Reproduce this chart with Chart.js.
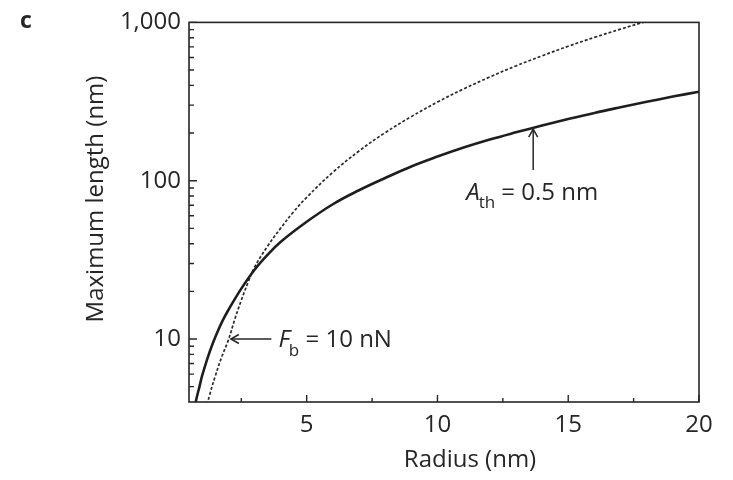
<!DOCTYPE html>
<html>
<head>
<meta charset="utf-8">
<script src="https://cdn.jsdelivr.net/npm/chart.js@4.4.1/dist/chart.umd.min.js"></script>
<style>
  html, body { margin: 0; padding: 0; background: #ffffff; }
  #wrap { width: 733px; height: 480px; }
</style>
</head>
<body>
<div id="wrap"><canvas id="c" width="733" height="480"></canvas></div>
<script>
// ---- Data ----
const radiusSolid  = [0.7, 0.8, 0.9, 1.0, 1.2, 1.4, 1.6, 1.8, 2.0, 2.5, 3, 3.5, 4, 5, 6, 7, 8, 9, 10, 11, 12, 13, 14, 15, 16, 17, 18, 19, 20];
const lengthSolid  = [3.6, 4.3, 5.0, 5.85, 7.5, 9.3, 11.2, 13.2, 15.2, 20.8, 27.3, 34, 41, 55, 71, 87, 104, 123, 142, 162, 182, 202, 223, 245, 268, 291, 315, 340, 365];
const radiusDashed = [1.15, 1.3, 1.5, 1.75, 2.0, 2.25, 2.5, 2.75, 3, 3.5, 4, 4.5, 5, 6, 7, 8, 9, 10, 11, 12, 13, 14, 15, 16, 17, 18];
const lengthDashed = [3.6, 4.5, 5.8, 7.7, 9.8, 13.3, 17.6, 22.6, 28.3, 38.5, 50, 63.6, 78.5, 113, 154, 201, 254, 314, 380, 452, 531, 615, 707, 804, 907, 1017];

const xMajorTicks = [5, 10, 15, 20];
const xMinorTicks = [2.5, 7.5, 12.5, 17.5];
const yMajorTicks = [10, 100, 1000];
const yMinorTicks = [5, 6, 7, 8, 9, 20, 30, 40, 50, 60, 70, 80, 90, 200, 300, 400, 500, 600, 700, 800, 900];

const xTitle = 'Radius (nm)';
const yTitle = 'Maximum length (nm)';
const panelLabel = 'c';
const labelFb = { main: 'F', sub: 'b', rest: ' = 10 nN' };
const labelAth = { main: 'A', sub: 'th', rest: ' = 0.5 nm' };
// annotation anchors in data units
const arrowFb = { fromX: 3.65, toX: 2.1, y: 10 };
const arrowAth = { x: 13.66, fromY: 117, toY: 212 };

const FONT = '"Open Sans", "Noto Sans", sans-serif';
const INK = '#262626';

const toPts = (xs, ys) => xs.map((x, i) => ({ x: x, y: ys[i] }));

function arrowHead(ctx, x, y, dir) {
  ctx.beginPath();
  if (dir === 'left') {
    ctx.moveTo(x + 8, y - 4.5);
    ctx.lineTo(x, y);
    ctx.lineTo(x + 8, y + 4.5);
  } else {
    ctx.moveTo(x - 4.5, y + 8);
    ctx.lineTo(x, y);
    ctx.lineTo(x + 4.5, y + 8);
  }
  ctx.stroke();
}

function drawSubLabel(ctx, x, baseline, parts, size, subDrop) {
  ctx.textAlign = 'left';
  ctx.textBaseline = 'alphabetic';
  ctx.font = 'italic ' + size + 'px ' + FONT;
  ctx.fillText(parts.main, x, baseline);
  let cx = x + ctx.measureText(parts.main).width - 1;
  ctx.font = Math.round(size * 0.72) + 'px ' + FONT;
  ctx.fillText(parts.sub, cx, baseline + subDrop);
  cx += ctx.measureText(parts.sub).width;
  ctx.font = size + 'px ' + FONT;
  ctx.fillText(parts.rest, cx, baseline);
}

const decorPlugin = {
  id: 'decor',
  afterDatasetsDraw(chart) {
    const ctx = chart.ctx;
    const a = chart.chartArea;
    const xs = chart.scales.x, ys = chart.scales.y;
    ctx.save();
    ctx.strokeStyle = INK;
    ctx.fillStyle = INK;
    // frame
    ctx.lineWidth = 1.6;
    ctx.strokeRect(a.left, a.top, a.right - a.left, a.bottom - a.top);
    // inward ticks
    ctx.lineWidth = 1.4;
    ctx.beginPath();
    xMajorTicks.forEach(v => { const p = xs.getPixelForValue(v); ctx.moveTo(p, a.bottom); ctx.lineTo(p, a.bottom - 7); });
    xMinorTicks.forEach(v => { const p = xs.getPixelForValue(v); ctx.moveTo(p, a.bottom); ctx.lineTo(p, a.bottom - 4); });
    yMajorTicks.forEach(v => { const p = ys.getPixelForValue(v); ctx.moveTo(a.left, p); ctx.lineTo(a.left + 8, p); });
    yMinorTicks.forEach(v => {
      if (v < ys.min || v > ys.max) return;
      const p = ys.getPixelForValue(v); ctx.moveTo(a.left, p); ctx.lineTo(a.left + 5, p);
    });
    ctx.stroke();

    // F_b annotation
    ctx.lineWidth = 1.5;
    const fy = ys.getPixelForValue(arrowFb.y);
    const fx0 = xs.getPixelForValue(arrowFb.fromX);
    const fx1 = xs.getPixelForValue(arrowFb.toX);
    ctx.beginPath(); ctx.moveTo(fx0, fy); ctx.lineTo(fx1 + 1, fy); ctx.stroke();
    arrowHead(ctx, fx1, fy, 'left');
    drawSubLabel(ctx, fx0 + 7, fy + 8, labelFb, 24, 9);

    // A_th annotation
    const ax = xs.getPixelForValue(arrowAth.x);
    const ay0 = ys.getPixelForValue(arrowAth.fromY);
    const ay1 = ys.getPixelForValue(arrowAth.toY);
    ctx.beginPath(); ctx.moveTo(ax, ay0); ctx.lineTo(ax, ay1 + 1); ctx.stroke();
    arrowHead(ctx, ax, ay1, 'up');
    drawSubLabel(ctx, ax - 67, ay0 + 30, labelAth, 24, 8);

    // axis titles
    ctx.font = '24px ' + FONT;
    ctx.textAlign = 'center';
    ctx.textBaseline = 'alphabetic';
    ctx.fillText(xTitle, 470, 467);
    ctx.save();
    ctx.translate(103, 199);
    ctx.rotate(-Math.PI / 2);
    ctx.fillText(yTitle, 0, 0);
    ctx.restore();
    // panel label
    ctx.font = 'bold 23px ' + FONT;
    ctx.textAlign = 'left';
    ctx.fillText(panelLabel, 20, 28);
    ctx.restore();
  }
};

new Chart(document.getElementById('c'), {
  type: 'line',
  data: {
    datasets: [
      {
        label: 'A_th = 0.5 nm',
        data: toPts(radiusSolid, lengthSolid),
        borderColor: '#1e1e1e',
        borderWidth: 2.6,
        pointRadius: 0,
        tension: 0.4,
        fill: false
      },
      {
        label: 'F_b = 10 nN',
        data: toPts(radiusDashed, lengthDashed),
        borderColor: '#2a2a2a',
        borderWidth: 1.7,
        borderDash: [3, 2],
        pointRadius: 0,
        tension: 0.4,
        fill: false
      }
    ]
  },
  options: {
    responsive: false,
    animation: false,
    devicePixelRatio: 1,
    layout: { padding: { left: 0, top: 18, right: 34, bottom: 0 } },
    plugins: { legend: { display: false }, tooltip: { enabled: false }, title: { display: false } },
    scales: {
      x: {
        type: 'linear',
        min: 0.5,
        max: 20,
        grid: { display: false, drawTicks: false },
        border: { display: false },
        afterBuildTicks: s => { s.ticks = xMajorTicks.map(v => ({ value: v })); },
        afterFit: s => { s.height = 78; },
        ticks: {
          padding: 9,
          color: INK,
          font: { family: FONT, size: 24 },
          maxRotation: 0,
          callback: v => String(v)
        }
      },
      y: {
        type: 'logarithmic',
        min: 4,
        max: 1000,
        grid: { display: false, drawTicks: false },
        border: { display: false },
        afterBuildTicks: s => { s.ticks = yMajorTicks.map(v => ({ value: v })); },
        afterFit: s => { s.width = 189; },
        ticks: {
          padding: 8,
          color: INK,
          font: { family: FONT, size: 24 },
          callback: v => Number(v).toLocaleString('en-US')
        }
      }
    }
  },
  plugins: [decorPlugin]
});
</script>
</body>
</html>
